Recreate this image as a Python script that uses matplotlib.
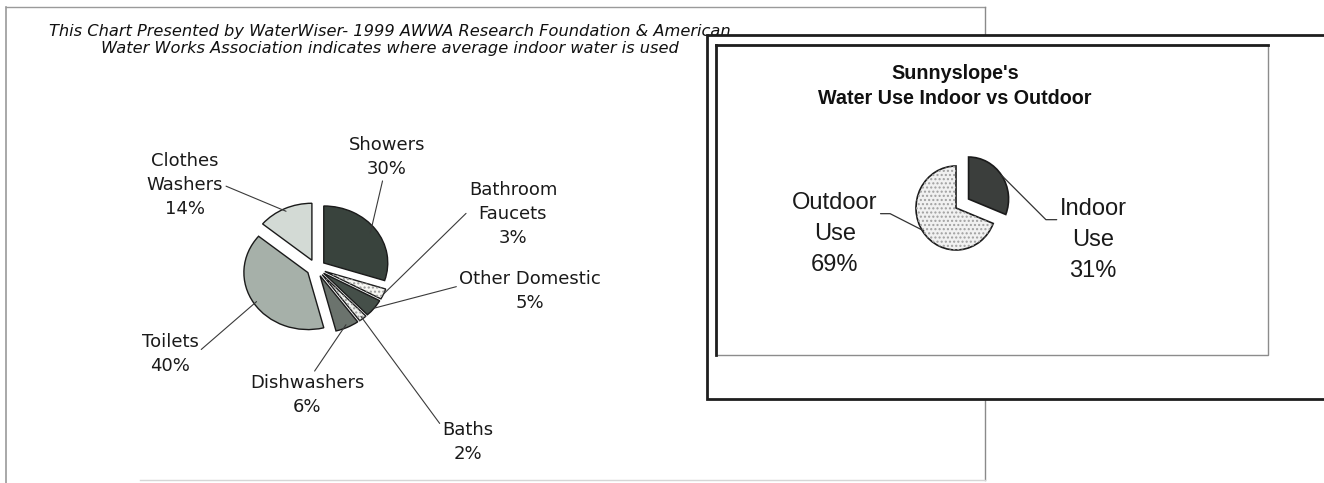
import numpy as np
import matplotlib
matplotlib.use('Agg')
from matplotlib import pyplot as plt
from matplotlib.patches import Rectangle, Wedge

W, H = 1324, 483

# indoor water use breakdown (left chart)
use_names = ['Showers', 'Bathroom\nFaucets', 'Other Domestic', 'Baths', 'Dishwashers', 'Toilets', 'Clothes\nWashers']
use_pct = [30, 3, 5, 2, 6, 40, 14]
use_colors = ['#39433d', '#f6f6f2', '#454f49', '#eef0ec', '#6b736d', '#a6b0a9', '#d3dad5']

# Sunnyslope indoor vs outdoor (right chart)
split_names = ['Indoor\nUse', 'Outdoor\nUse']
split_pct = [31, 69]
split_colors = ['#3b3e3c', '#f1f1f1']

title_left = ('This Chart Presented by WaterWiser- 1999 AWWA Research Foundation & American\n'
              'Water Works Association indicates where average indoor water is used')
title_right = "Sunnyslope's\nWater Use Indoor vs Outdoor"


def fpx(x, y):
    # pixel position measured from the top-left corner -> figure pixels
    return (x, H - y)


def axes_px(cx, cy, w, h):
    return [(cx - w / 2) / W, (H - cy - h / 2) / H, w / W, h / H]


fig = plt.figure(figsize=(W / 100, H / 100), dpi=100)

# background layer: panels, frames and title text
bg = fig.add_axes([0, 0, 1, 1])
bg.set_xlim(0, W)
bg.set_ylim(H, 0)
bg.axis('off')

bg.plot([6, 6], [7, H], color='#9a9a9a', lw=1.2, zorder=1)
bg.plot([6, 985], [7, 7], color='#9a9a9a', lw=1, zorder=1)
bg.plot([985, 985], [7, 480], color='#8a8a8a', lw=1, zorder=1)
bg.plot([140, 985], [480, 480], color='#d6d6d6', lw=1, zorder=1)

bg.text(390, 40, title_left, ha='center', va='center', fontsize=11.7, style='italic',
        family='DejaVu Sans', linespacing=1.1, color='#111111', zorder=1)

bg.add_patch(Rectangle((707, 35), 700, 364, facecolor='white', edgecolor='#1e1e1e', lw=2, zorder=2))
bg.add_patch(Rectangle((716, 45), 552, 310, facecolor='white', edgecolor='#8c8c8c', lw=1, zorder=3))
bg.plot([716, 1268], [45, 45], color='#1e1e1e', lw=2, zorder=4)
bg.plot([716, 716], [45, 355], color='#1e1e1e', lw=2, zorder=4)

bg.text(955, 86, title_right, ha='center', va='center', fontsize=14.2, fontweight='bold',
        family=['Liberation Sans', 'DejaVu Sans'], linespacing=1.45, color='#111111', zorder=5)

# ---- left pie ----
ax1 = fig.add_axes(axes_px(316, 268, 2.6 * 64, 2.6 * 57))
wedges1, _ = ax1.pie(use_pct, colors=use_colors, startangle=90, counterclock=False,
                     explode=[0.15] * len(use_pct), normalize=True,
                     wedgeprops=dict(edgecolor='#1a1a1a', linewidth=1))
ax1.set_aspect('auto')
ax1.set_xlim(-1.3, 1.3)
ax1.set_ylim(-1.3, 1.3)
ax1.axis('off')
for i in (1, 3):
    w = wedges1[i]
    ax1.add_patch(Wedge(w.center, w.r, w.theta1, w.theta2, facecolor='none',
                        edgecolor='#9a9a9a', hatch='....', lw=0))

# label centre (px from top-left), relpos of leader start, radius factor of leader end
left_lab = [((387, 157), (0.45, 0.0), 0.9),
            ((513, 214), (0.0, 0.55), 1.0),
            ((530, 291), (0.0, 0.62), 1.0),
            ((468, 442), (0.0, 0.85), 0.95),
            ((307, 395), (0.55, 1.0), 0.95),
            ((170, 354), (1.0, 0.55), 0.95),
            ((185, 185), (1.0, 0.5), 0.95)]
for w, name, pct, (pos, rel, rr) in zip(wedges1, use_names, use_pct, left_lab):
    mid = np.deg2rad((w.theta1 + w.theta2) / 2)
    xy = (w.center[0] + rr * np.cos(mid), w.center[1] + rr * np.sin(mid))
    ax1.annotate(f'{name}\n{pct}%', xy=xy, xycoords='data', xytext=fpx(*pos),
                 textcoords='figure pixels', ha='center', va='center', fontsize=13,
                 family='DejaVu Sans', linespacing=1.45, color='#1a1a1a',
                 arrowprops=dict(arrowstyle='-', color='#3a3a3a', lw=0.8,
                                 shrinkA=0, shrinkB=0, relpos=rel))

# ---- right pie ----
ax2 = fig.add_axes(axes_px(956, 208, 3.0 * 40, 3.0 * 42))
wedges2, _ = ax2.pie(split_pct, colors=split_colors, startangle=90, counterclock=False,
                     explode=[0.38, 0], normalize=True,
                     wedgeprops=dict(edgecolor='#1a1a1a', linewidth=1.2))
ax2.set_aspect('auto')
ax2.set_xlim(-1.5, 1.5)
ax2.set_ylim(-1.5, 1.5)
ax2.axis('off')
w = wedges2[1]
ax2.add_patch(Wedge(w.center, w.r, w.theta1, w.theta2, facecolor='none',
                    edgecolor='#a0a0a0', hatch='....', lw=0))

right_lab = [((1093, 240), (0.0, 0.74), 1.0, -45),
             ((835, 234), (1.0, 0.74), 0.97, -27)]
for w, name, pct, (pos, rel, rr, angb) in zip(wedges2, split_names, split_pct, right_lab):
    mid = np.deg2rad((w.theta1 + w.theta2) / 2)
    xy = (w.center[0] + rr * np.cos(mid), w.center[1] + rr * np.sin(mid))
    ax2.annotate(f'{name}\n{pct}%', xy=xy, xycoords='data', xytext=fpx(*pos),
                 textcoords='figure pixels', ha='center', va='center', fontsize=17,
                 family=['Liberation Sans', 'DejaVu Sans'], linespacing=1.55,
                 color='#1a1a1a',
                 arrowprops=dict(arrowstyle='-', color='#333333', lw=0.9, shrinkA=0, shrinkB=0,
                                 relpos=rel,
                                 connectionstyle=f'angle,angleA=0,angleB={angb},rad=0'))

fig.savefig('out.png', dpi=100, facecolor='white')
